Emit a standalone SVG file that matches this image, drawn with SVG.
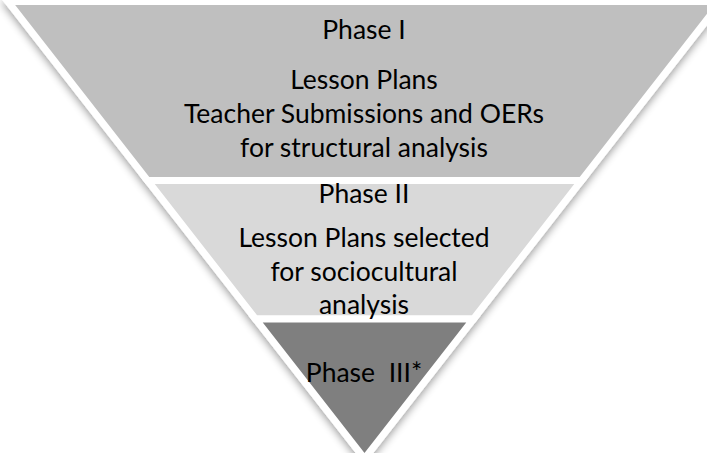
<svg xmlns="http://www.w3.org/2000/svg" width="707" height="453" viewBox="0 0 707 453">
<defs>
<filter id="sh" x="-10%" y="-10%" width="120%" height="130%">
<feGaussianBlur in="SourceAlpha" stdDeviation="4"/>
<feOffset dx="0" dy="3" result="b"/>
<feComponentTransfer><feFuncA type="linear" slope="0.4"/></feComponentTransfer>
<feMerge><feMergeNode/><feMergeNode in="SourceGraphic"/></feMerge>
</filter>
<style>
.band{stroke:#ffffff;stroke-width:7;stroke-linejoin:miter}
.t{font-family:Lato,"Liberation Sans",sans-serif;font-size:26.5px;fill:#000;text-anchor:middle}
</style>
</defs>
<rect width="707" height="453" fill="#ffffff"/>
<g filter="url(#sh)">
<g id="phase1">
<polygon class="band" fill="#bfbfbf" points="7.9,1.5 721.1,1.5 581.5,180.5 147.5,180.5"/>
</g>
<g id="phase2">
<polygon class="band" fill="#d9d9d9" points="147.5,180.5 581.5,180.5 473.5,319 255.5,319"/>
</g>
<g id="phase3">
<polygon class="band" fill="#7f7f7f" points="255.5,319 473.5,319 364.5,458.7"/>
</g>
</g>
<g id="labels">
<text class="t" x="364" y="39">Phase I</text>
<text class="t" x="364" y="89">Lesson Plans</text>
<text class="t" x="364" y="123">Teacher Submissions and OERs</text>
<text class="t" x="364" y="157">for structural analysis</text>
<text class="t" x="364" y="203">Phase II</text>
<text class="t" x="364" y="247">Lesson Plans selected</text>
<text class="t" x="364" y="281">for sociocultural</text>
<text class="t" x="364" y="314">analysis</text>
<text class="t" x="364" y="382" xml:space="preserve">Phase  III*</text>
</g>
</svg>
